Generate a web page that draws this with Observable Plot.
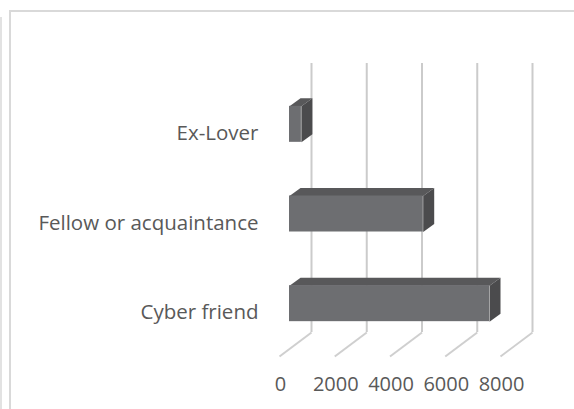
<!DOCTYPE html>
<html>
<head>
<meta charset="utf-8">
<script src="https://cdn.jsdelivr.net/npm/d3@7"></script>
<script src="https://cdn.jsdelivr.net/npm/@observablehq/plot@0.6"></script>
<style>
  html, body { margin: 0; padding: 0; background: #fff; overflow: hidden; }
  #wrap { position: relative; width: 574px; height: 409px; }
  #wrap svg { position: absolute; left: 0; top: 0; }
  .frame-a { position: absolute; left: 9px; top: 10px; width: 565px; height: 399px;
             border-top: 2px solid #d9d9d9; border-left: 2px solid #d9d9d9; box-sizing: border-box; }
  .frame-b { position: absolute; left: 0px; top: 17px; width: 2px; height: 392px; background: #e2e2e2; }
</style>
</head>
<body>
<div id="wrap">
  <div class="frame-a"></div>
  <div class="frame-b"></div>
</div>
<script>
// ---- data ----
const categories = ["Cyber friend", "Fellow or acquaintance", "Ex-Lover"];
const values = [7240, 4840, 430];
const xTicks = [0, 2000, 4000, 6000, 8000];
const xTickLabels = ["0", "2000", "4000", "6000", "8000"];

// ---- layout ----
const W = 574, H = 409, mL = 311, mR = 42, mT = 63, mB = 77;
const ux = 8000 / (W - mL - mR);   // data units per px (x)
const uy = 3 / (H - mT - mB);      // data units per px (y)
const half = 18 * uy;              // half bar thickness
const F = {x: -22 * ux, y: -16 * uy}; // front plane offset
const B = {x: -11 * ux, y: -8 * uy};  // back plane offset

const tops = [], sides = [], fronts = [];
categories.forEach((c, i) => {
  const v = values[i];
  const t = i + half, b = i - half;
  [[0, t, F], [v, t, F], [v, t, B], [0, t, B]].forEach(([x, y, o]) => tops.push({id: c, x: x + o.x, y: y + o.y}));
  [[v, t, F], [v, b, F], [v, b, B], [v, t, B]].forEach(([x, y, o]) => sides.push({id: c, x: x + o.x, y: y + o.y}));
  fronts.push({x1: 0 + F.x, x2: v + F.x, y1: b + F.y, y2: t + F.y});
});

const chart = Plot.plot({
  width: W, height: H,
  marginLeft: mL, marginRight: mR, marginTop: mT, marginBottom: mB,
  style: {fontFamily: "'Open Sans', sans-serif", background: "transparent"},
  x: {domain: [0, 8000], axis: null},
  y: {domain: [-0.5, 2.5], axis: null},
  marks: [
    Plot.ruleX(xTicks, {x: d => d, stroke: "#cbcbcb", strokeWidth: 2}),
    Plot.link(xTicks, {x1: d => d, x2: d => d - 32 * ux, y1: -0.5, y2: -0.5 - 24 * uy, stroke: "#cfcfcf", strokeWidth: 2}),
    Plot.line(tops, {x: "x", y: "y", z: "id", fill: "#58585a", stroke: "none"}),
    Plot.line(sides, {x: "x", y: "y", z: "id", fill: "#4b4b4d", stroke: "none"}),
    Plot.rect(fronts, {x1: "x1", x2: "x2", y1: "y1", y2: "y2", fill: "#6d6e71"}),
    Plot.text(categories, {x: 0, y: (d, i) => i, dx: -53, dy: 25, text: d => d, textAnchor: "end", fontSize: 20.5, fill: "#595959"}),
    Plot.text(xTicks, {x: d => d, y: -0.5, dx: -31, dy: 52, text: (d, i) => xTickLabels[i], fontSize: 20, fill: "#595959"})
  ]
});
document.getElementById("wrap").prepend(chart);
</script>
</body>
</html>
